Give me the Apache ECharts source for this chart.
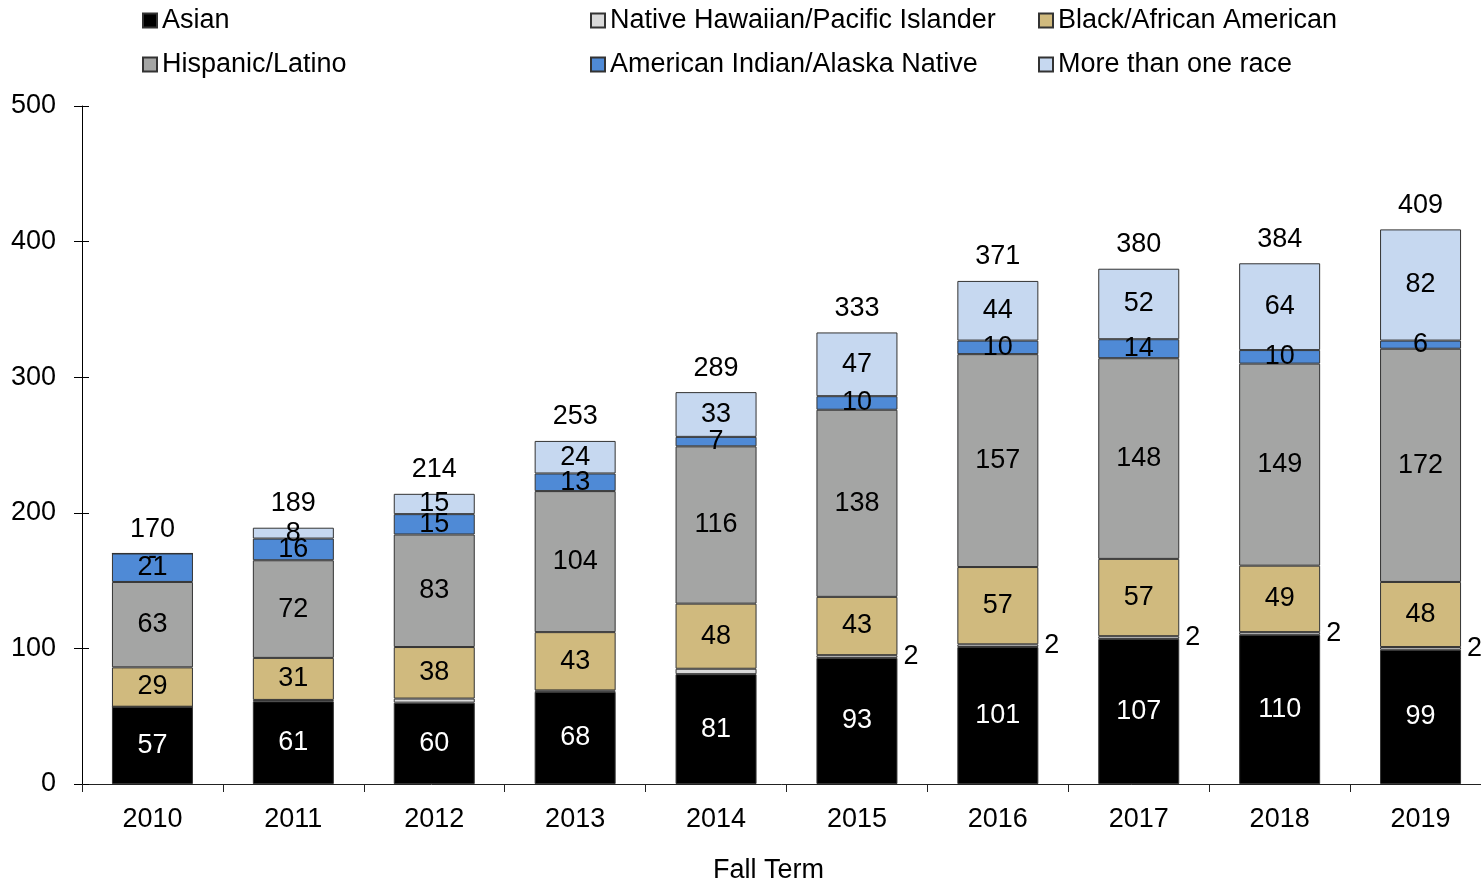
<!DOCTYPE html>
<html>
<head>
<meta charset="utf-8">
<script src="https://cdn.jsdelivr.net/npm/echarts@6/dist/echarts.min.js"></script>
<style>
  html, body { margin: 0; padding: 0; background: #fff; }
  #chart { width: 1481px; height: 885px; }
</style>
</head>
<body>
<div id="chart"></div>
<script>
// Enrollment by race/ethnicity, fall terms
const years = ['2010', '2011', '2012', '2013', '2014', '2015', '2016', '2017', '2018', '2019'];
const asian    = [57, 61, 60, 68, 81, 93, 101, 107, 110, 99];
const nhpi     = [0, 1, 3, 1, 4, 2, 2, 2, 2, 2];
const black    = [29, 31, 38, 43, 48, 43, 57, 57, 49, 48];
const hispanic = [63, 72, 83, 104, 116, 138, 157, 148, 149, 172];
const aian     = [21, 16, 15, 13, 7, 10, 10, 14, 10, 6];
const multi    = [0, 8, 15, 24, 33, 47, 44, 52, 64, 82];
// Pacific Islander counts are only labelled from 2015 on
const nhpiLabelled = [false, false, false, false, false, true, true, true, true, true];
const yTicks = { min: 0, max: 500, interval: 100 };

const FONT = "'Liberation Sans', Arial, Helvetica, sans-serif";
const FS = 27;

const totals = years.map((_, i) => asian[i] + nhpi[i] + black[i] + hispanic[i] + aian[i] + multi[i]);

const border = { borderColor: '#333', borderWidth: 1 };

function barSeries(name, data, color, labelColor, extra) {
  return Object.assign({
    name: name,
    type: 'bar',
    stack: 'total',
    barWidth: 81,
    data: data,
    itemStyle: Object.assign({ color: color }, border),
    label: {
      show: true,
      position: 'inside',
      color: labelColor,
      fontFamily: FONT,
      fontSize: FS,
      formatter: p => (p.value === 0 ? '-' : String(p.value))
    }
  }, extra || {});
}

// zero counts are drawn as a dash sitting just under the top edge of the stack
const withZeroDash = arr => arr.map(v => (v === 0 ? { value: v, label: { offset: [0, 3] } } : v));

const series = [
  barSeries('Asian', asian, '#000000', '#ffffff'),
  barSeries('Native Hawaiian/Pacific Islander', nhpi.map((v, i) => ({
    value: v,
    label: { show: nhpiLabelled[i] }
  })), '#dadada', '#000', {
    label: {
      show: true, position: 'right', distance: 6, color: '#000',
      fontFamily: FONT, fontSize: FS
    }
  }),
  barSeries('Black/African American', black, '#d0ba7e', '#000'),
  barSeries('Hispanic/Latino', hispanic, '#a4a5a4', '#000'),
  barSeries('American Indian/Alaska Native', aian, '#4f8ad6', '#000'),
  barSeries('More than one race', withZeroDash(multi), '#c6d8f0', '#000'),
  {
    name: 'Total',
    type: 'scatter',
    data: totals,
    symbol: 'circle',
    symbolSize: 1,
    silent: true,
    itemStyle: { color: 'rgba(0,0,0,0)', opacity: 1 },
    label: {
      show: true, position: 'top', distance: 10, color: '#000',
      fontFamily: FONT, fontSize: FS
    }
  }
];

const legendPos = [
  ['Asian', 142, 7],
  ['Native Hawaiian/Pacific Islander', 590, 7],
  ['Black/African American', 1038, 7],
  ['Hispanic/Latino', 142, 51],
  ['American Indian/Alaska Native', 590, 51],
  ['More than one race', 1038, 51]
];

const legends = legendPos.map(([name, x, y]) => ({
  data: [name],
  left: x,
  top: y,
  padding: 0,
  itemWidth: 14,
  itemHeight: 14,
  icon: 'rect',
  selectedMode: false,
  textStyle: { fontFamily: FONT, fontSize: FS, color: '#000' }
}));

const chart = echarts.init(document.getElementById('chart'), null, { renderer: 'canvas' });
chart.setOption({
  animation: false,
  backgroundColor: '#fff',
  legend: legends,
  grid: { left: 82, top: 106, width: 1409, height: 678, containLabel: false, outerBoundsMode: 'none' },
  xAxis: {
    type: 'category',
    data: years,
    name: 'Fall Term',
    nameLocation: 'middle',
    nameGap: 73,
    nameTextStyle: { fontFamily: FONT, fontSize: FS, color: '#000', padding: [0, 36, 0, 0] },
    axisLine: { lineStyle: { color: '#222', width: 1 } },
    axisTick: { show: true, length: 8, lineStyle: { color: '#222' } },
    axisLabel: { fontFamily: FONT, fontSize: FS, color: '#000', margin: 22 },
    splitLine: { show: false }
  },
  yAxis: [
    {
      type: 'value',
      min: yTicks.min, max: yTicks.max, interval: yTicks.interval,
      axisLine: { show: true, lineStyle: { color: '#000', width: 1 } },
      axisTick: { show: true, length: 8, lineStyle: { color: '#000' } },
      axisLabel: { fontFamily: FONT, fontSize: FS, color: '#000', margin: 26 },
      splitLine: { show: false }
    },
    {
      type: 'value',
      position: 'left',
      min: yTicks.min, max: yTicks.max, interval: yTicks.interval,
      axisLine: { show: false },
      axisTick: { show: true, inside: true, length: 7, lineStyle: { color: '#000' } },
      axisLabel: { show: false },
      splitLine: { show: false }
    }
  ],
  series: series
});
</script>
</body>
</html>
